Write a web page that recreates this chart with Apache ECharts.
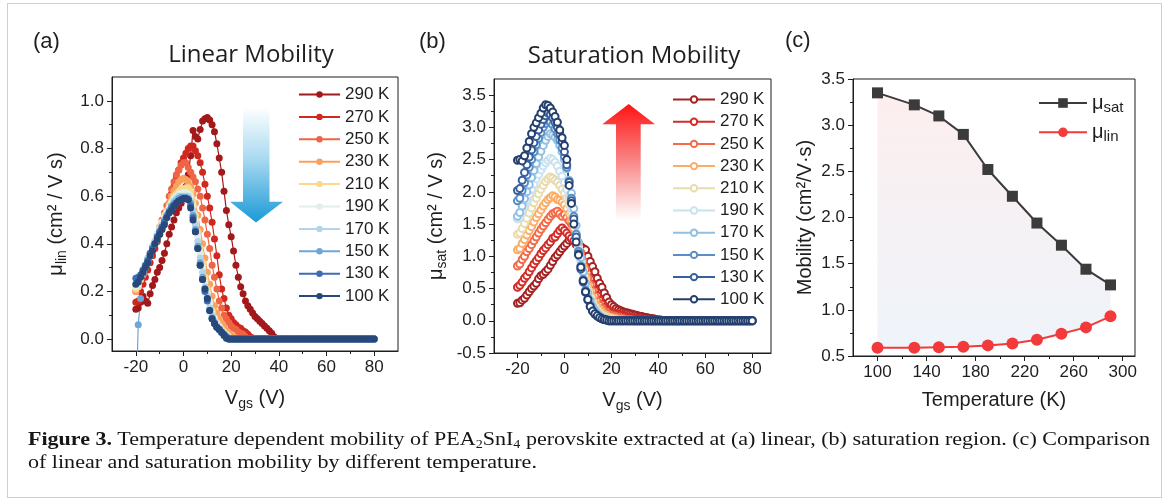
<!DOCTYPE html>
<html><head><meta charset="utf-8">
<script src="https://cdn.jsdelivr.net/npm/echarts@6/dist/echarts.min.js"></script>
<style>
html,body{margin:0;padding:0;background:#fff;}
#wrap{position:relative;width:1167px;height:502px;overflow:hidden;background:#fff;}
#chart{position:absolute;left:0;top:0;width:1167px;height:502px;}
#frame{position:absolute;left:7px;top:3px;width:1155px;height:495px;border:1px solid #cfcfcf;box-sizing:border-box;pointer-events:none;}
#cap{position:absolute;left:28px;top:427px;font-family:'Liberation Serif',serif;font-size:19.5px;line-height:23px;color:#151515;white-space:nowrap;transform-origin:0 0;}
#cap sub{font-size:12.5px;vertical-align:-3px;line-height:0;}
</style></head>
<body>
<div id="wrap">
<div id="chart"></div>
<div id="frame"></div>
<div id="cap"><span id="l1"><b>Figure 3.</b> Temperature dependent mobility of PEA<sub>2</sub>SnI<sub>4</sub> perovskite extracted at (a) linear, (b) saturation region. (c) Comparison</span><br><span id="l2">of linear and saturation mobility by different temperature.</span></div>
</div>
<script>
// ---------- DATA ----------
const vgs = [-20,-19,-18,-17,-16,-15,-14,-13,-12,-11,-10,-9,-8,-7,-6,-5,-4,-3,-2,-1,0,1,2,3,4,5,6,7,8,9,10,11,12,13,14,15,16,17,18,19,20,21,22,23,24,25,26,27,28,29,30,31,32,33,34,35,36,37,38,39,40,41,42,43,44,45,46,47,48,49,50,51,52,53,54,55,56,57,58,59,60,61,62,63,64,65,66,67,68,69,70,71,72,73,74,75,76,77,78,79,80];
const temps = ['290 K','270 K','250 K','230 K','210 K','190 K','170 K','150 K','130 K','100 K'];
const linColors = ['#a3191b','#d0281f','#ef6445','#f9a15e','#fcd88b','#e2efe8','#b2d5ea','#6ea6d6','#3b6db3','#29487a'];
const satColors = ['#a52224','#d22c27','#f26a47','#fbad68','#e9dcac','#c9e2f1','#92c0e2','#5a8ec8','#36619e','#243f6d'];

// panel (a): linear mobility vs Vgs
const lin290 = [0.125,0.13,0.155,0.18,0.16,0.15,0.19,0.225,0.25,0.28, 0.30,0.33,0.36,0.40,0.44,0.47,0.50,0.53,0.55,0.57, 0.60,0.64,0.69,0.77,0.875,0.85,0.84,0.88,0.915,0.925, 0.93,0.92,0.90,0.87,0.82,0.76,0.70,0.62,0.54,0.48, 0.43,0.37,0.31,0.26,0.22,0.19,0.16,0.14,0.125,0.11, 0.095,0.085,0.075,0.065,0.055,0.045,0.035,0.025,0.01,0, 0,0,0,0,0,0,0,0,0,0, 0,0,0,0,0,0,0,0,0,0, 0,0,0,0,0,0,0,0,0,0, 0,0,0,0,0,0,0,0,0,0, 0];
const lin270 = [0.155,0.16,0.20,0.23,0.26,0.29,0.32,0.35,0.38,0.41, 0.44,0.47,0.50,0.54,0.57,0.61,0.64,0.68,0.71,0.74, 0.76,0.78,0.80,0.81,0.81,0.79,0.77,0.74,0.70,0.65, 0.60,0.55,0.49,0.42,0.35,0.27,0.21,0.17,0.13,0.10, 0.085,0.07,0.06,0.05,0.045,0.035,0.03,0.02,0.01,0.005, 0,0,0,0,0,0,0,0,0,0, 0,0,0,0,0,0,0,0,0,0, 0,0,0,0,0,0,0,0,0,0, 0,0,0,0,0,0,0,0,0,0, 0,0,0,0,0,0,0,0,0,0, 0];
const lin250 = [0.20,0.22,0.25,0.28,0.30,0.33,0.35,0.38,0.41,0.44, 0.47,0.50,0.53,0.56,0.60,0.63,0.66,0.69,0.71,0.73, 0.74,0.74,0.72,0.70,0.68,0.66,0.63,0.60,0.55,0.50, 0.44,0.38,0.31,0.26,0.21,0.16,0.13,0.10,0.085,0.07, 0.055,0.045,0.04,0.03,0.025,0.02,0.01,0,0,0, 0,0,0,0,0,0,0,0,0,0, 0,0,0,0,0,0,0,0,0,0, 0,0,0,0,0,0,0,0,0,0, 0,0,0,0,0,0,0,0,0,0, 0,0,0,0,0,0,0,0,0,0, 0];
const lin230 = [0.20,0.22,0.25,0.27,0.30,0.32,0.35,0.38,0.40,0.43, 0.45,0.48,0.51,0.54,0.57,0.60,0.62,0.64,0.66,0.67, 0.675,0.67,0.66,0.64,0.61,0.57,0.52,0.46,0.40,0.34, 0.28,0.23,0.18,0.14,0.11,0.085,0.065,0.05,0.035,0.025, 0.015,0.01,0.005,0,0,0,0,0,0,0, 0,0,0,0,0,0,0,0,0,0, 0,0,0,0,0,0,0,0,0,0, 0,0,0,0,0,0,0,0,0,0, 0,0,0,0,0,0,0,0,0,0, 0,0,0,0,0,0,0,0,0,0, 0];
const lin210 = [0.21,0.22,0.25,0.28,0.31,0.33,0.36,0.39,0.41,0.44, 0.47,0.49,0.52,0.54,0.56,0.58,0.60,0.61,0.62,0.63, 0.63,0.635,0.635,0.62,0.58,0.52,0.45,0.38,0.32,0.26, 0.21,0.16,0.12,0.09,0.07,0.055,0.04,0.03,0.02,0.01, 0,0,0,0,0,0,0,0,0,0, 0,0,0,0,0,0,0,0,0,0, 0,0,0,0,0,0,0,0,0,0, 0,0,0,0,0,0,0,0,0,0, 0,0,0,0,0,0,0,0,0,0, 0,0,0,0,0,0,0,0,0,0, 0];
const lin190 = [0.22,0.23,0.26,0.28,0.31,0.34,0.36,0.39,0.41,0.44, 0.46,0.49,0.51,0.53,0.55,0.57,0.59,0.60,0.61,0.61, 0.615,0.615,0.61,0.60,0.56,0.50,0.43,0.36,0.30,0.24, 0.19,0.15,0.11,0.085,0.065,0.05,0.035,0.025,0.015,0.005, 0,0,0,0,0,0,0,0,0,0, 0,0,0,0,0,0,0,0,0,0, 0,0,0,0,0,0,0,0,0,0, 0,0,0,0,0,0,0,0,0,0, 0,0,0,0,0,0,0,0,0,0, 0,0,0,0,0,0,0,0,0,0, 0];
const lin170 = [0.23,0.24,0.26,0.29,0.31,0.34,0.36,0.39,0.41,0.43, 0.46,0.48,0.50,0.52,0.54,0.56,0.58,0.59,0.60,0.60, 0.60,0.60,0.60,0.58,0.54,0.48,0.41,0.34,0.28,0.22, 0.18,0.13,0.10,0.075,0.06,0.045,0.03,0.02,0.01,0.005, 0,0,0,0,0,0,0,0,0,0, 0,0,0,0,0,0,0,0,0,0, 0,0,0,0,0,0,0,0,0,0, 0,0,0,0,0,0,0,0,0,0, 0,0,0,0,0,0,0,0,0,0, 0,0,0,0,0,0,0,0,0,0, 0];
const lin150 = [-0.3,0.06,0.17,0.27,0.30,0.33,0.35,0.38,0.40,0.43, 0.45,0.47,0.50,0.52,0.54,0.56,0.57,0.58,0.59,0.595, 0.595,0.595,0.59,0.57,0.52,0.46,0.39,0.32,0.26,0.21, 0.17,0.12,0.09,0.07,0.05,0.04,0.03,0.02,0.01,0, 0,0,0,0,0,0,0,0,0,0, 0,0,0,0,0,0,0,0,0,0, 0,0,0,0,0,0,0,0,0,0, 0,0,0,0,0,0,0,0,0,0, 0,0,0,0,0,0,0,0,0,0, 0,0,0,0,0,0,0,0,0,0, 0];
const lin130 = [0.255,0.26,0.27,0.29,0.31,0.33,0.36,0.38,0.40,0.43, 0.45,0.47,0.49,0.51,0.53,0.55,0.56,0.57,0.58,0.585, 0.59,0.59,0.585,0.56,0.51,0.45,0.38,0.31,0.25,0.20, 0.16,0.12,0.085,0.065,0.05,0.04,0.03,0.02,0.01,0, 0,0,0,0,0,0,0,0,0,0, 0,0,0,0,0,0,0,0,0,0, 0,0,0,0,0,0,0,0,0,0, 0,0,0,0,0,0,0,0,0,0, 0,0,0,0,0,0,0,0,0,0, 0,0,0,0,0,0,0,0,0,0, 0];
const lin100 = [0.23,0.24,0.26,0.28,0.30,0.32,0.35,0.37,0.40,0.42, 0.44,0.46,0.48,0.51,0.53,0.54,0.56,0.57,0.58,0.585, 0.59,0.59,0.585,0.55,0.50,0.45,0.38,0.31,0.25,0.21, 0.17,0.12,0.085,0.065,0.05,0.04,0.028,0.015,0.003,0, 0,0,0,0,0,0,0,0,0,0, 0,0,0,0,0,0,0,0,0,0, 0,0,0,0,0,0,0,0,0,0, 0,0,0,0,0,0,0,0,0,0, 0,0,0,0,0,0,0,0,0,0, 0,0,0,0,0,0,0,0,0,0, 0];

// panel (b): saturation mobility vs Vgs
const sat290 = [0.27,0.28,0.32,0.35,0.40,0.45,0.50,0.54,0.58,0.65, 0.70,0.72,0.76,0.80,0.86,0.92,0.98,1.02,1.07,1.12, 1.16,1.20,1.25,1.27,1.24,1.20,1.18,1.15,1.12,1.10, 1.00,0.92,0.84,0.76,0.66,0.58,0.52,0.43,0.36,0.29, 0.25,0.22,0.19,0.17,0.155,0.14,0.13,0.12,0.11,0.10, 0.09,0.08,0.07,0.065,0.055,0.05,0.04,0.035,0.03,0.02, 0.015,0.01,0,0,0,0,0,0,0,0, 0,0,0,0,0,0,0,0,0,0, 0,0,0,0,0,0,0,0,0,0, 0,0,0,0,0,0,0,0,0,0, 0];
const sat270 = [0.52,0.55,0.60,0.66,0.70,0.76,0.82,0.88,0.93,0.98, 1.04,1.09,1.13,1.18,1.22,1.28,1.30,1.35,1.40,1.44, 1.40,1.36,1.32,1.28,1.24,1.18,1.10,1.02,0.93,0.84, 0.74,0.65,0.56,0.47,0.39,0.32,0.26,0.21,0.17,0.15, 0.13,0.12,0.11,0.10,0.09,0.08,0.07,0.06,0.055,0.05, 0.04,0.035,0.03,0.025,0.02,0.015,0.01,0.005,0,0, 0,0,0,0,0,0,0,0,0,0, 0,0,0,0,0,0,0,0,0,0, 0,0,0,0,0,0,0,0,0,0, 0,0,0,0,0,0,0,0,0,0, 0];
const sat250 = [0.85,0.88,0.95,1.00,1.07,1.12,1.18,1.24,1.30,1.36, 1.42,1.47,1.52,1.57,1.62,1.66,1.68,1.70,1.66,1.62, 1.65,1.60,1.55,1.50,1.42,1.33,1.20,1.06,0.92,0.80, 0.67,0.56,0.46,0.38,0.30,0.24,0.19,0.15,0.12,0.10, 0.08,0.07,0.06,0.05,0.04,0.03,0.025,0.02,0.015,0.01, 0.005,0,0,0,0,0,0,0,0,0, 0,0,0,0,0,0,0,0,0,0, 0,0,0,0,0,0,0,0,0,0, 0,0,0,0,0,0,0,0,0,0, 0,0,0,0,0,0,0,0,0,0, 0];
const sat230 = [1.10,1.12,1.20,1.26,1.33,1.40,1.46,1.53,1.60,1.66, 1.72,1.78,1.83,1.88,1.91,1.94,1.92,1.88,1.87,1.84, 1.80,1.74,1.66,1.56,1.44,1.30,1.14,0.98,0.83,0.69, 0.56,0.45,0.36,0.28,0.22,0.17,0.13,0.10,0.08,0.06, 0.05,0.04,0.03,0.02,0.015,0.01,0.005,0,0,0, 0,0,0,0,0,0,0,0,0,0, 0,0,0,0,0,0,0,0,0,0, 0,0,0,0,0,0,0,0,0,0, 0,0,0,0,0,0,0,0,0,0, 0,0,0,0,0,0,0,0,0,0, 0];
const sat210 = [1.34,1.36,1.43,1.51,1.59,1.67,1.75,1.83,1.90,1.97, 2.04,2.10,2.16,2.20,2.23,2.21,2.18,2.15,2.10,2.04, 1.98,1.90,1.80,1.66,1.50,1.32,1.13,0.95,0.78,0.62, 0.48,0.37,0.28,0.21,0.16,0.12,0.09,0.07,0.05,0.04, 0.03,0.02,0.01,0.005,0,0,0,0,0,0, 0,0,0,0,0,0,0,0,0,0, 0,0,0,0,0,0,0,0,0,0, 0,0,0,0,0,0,0,0,0,0, 0,0,0,0,0,0,0,0,0,0, 0,0,0,0,0,0,0,0,0,0, 0];
const sat190 = [1.58,1.60,1.69,1.78,1.87,1.96,2.04,2.12,2.20,2.27, 2.34,2.40,2.45,2.49,2.52,2.50,2.46,2.40,2.32,2.24, 2.15,2.04,1.90,1.74,1.56,1.36,1.14,0.93,0.74,0.57, 0.43,0.32,0.23,0.17,0.12,0.09,0.06,0.04,0.03,0.02, 0.01,0,0,0,0,0,0,0,0,0, 0,0,0,0,0,0,0,0,0,0, 0,0,0,0,0,0,0,0,0,0, 0,0,0,0,0,0,0,0,0,0, 0,0,0,0,0,0,0,0,0,0, 0,0,0,0,0,0,0,0,0,0, 0];
const sat170 = [1.62,1.68,1.78,1.89,2.00,2.11,2.22,2.33,2.44,2.54, 2.63,2.72,2.80,2.86,2.90,2.88,2.85,2.80,2.72,2.62, 2.50,2.36,2.18,1.98,1.74,1.48,1.22,0.98,0.76,0.58, 0.43,0.31,0.22,0.16,0.11,0.08,0.05,0.03,0.02,0.01, 0,0,0,0,0,0,0,0,0,0, 0,0,0,0,0,0,0,0,0,0, 0,0,0,0,0,0,0,0,0,0, 0,0,0,0,0,0,0,0,0,0, 0,0,0,0,0,0,0,0,0,0, 0,0,0,0,0,0,0,0,0,0, 0];
const sat150 = [1.86,1.90,2.02,2.14,2.26,2.38,2.50,2.62,2.73,2.83, 2.92,3.00,3.06,3.10,3.08,3.04,2.98,2.90,2.80,2.68, 2.55,2.38,2.16,1.90,1.62,1.34,1.08,0.85,0.64,0.47, 0.34,0.24,0.16,0.11,0.08,0.05,0.03,0.02,0.01,0, 0,0,0,0,0,0,0,0,0,0, 0,0,0,0,0,0,0,0,0,0, 0,0,0,0,0,0,0,0,0,0, 0,0,0,0,0,0,0,0,0,0, 0,0,0,0,0,0,0,0,0,0, 0,0,0,0,0,0,0,0,0,0, 0];
const sat130 = [2.02,2.05,2.18,2.30,2.42,2.54,2.65,2.76,2.86,2.96, 3.05,3.12,3.18,3.22,3.20,3.15,3.08,3.00,2.90,2.78, 2.62,2.42,2.15,1.86,1.58,1.30,1.04,0.80,0.60,0.44, 0.32,0.22,0.15,0.10,0.07,0.05,0.03,0.02,0.01,0, 0,0,0,0,0,0,0,0,0,0, 0,0,0,0,0,0,0,0,0,0, 0,0,0,0,0,0,0,0,0,0, 0,0,0,0,0,0,0,0,0,0, 0,0,0,0,0,0,0,0,0,0, 0,0,0,0,0,0,0,0,0,0, 0];
const sat100 = [2.49,2.50,2.48,2.56,2.68,2.78,2.90,3.00,3.07,3.15, 3.22,3.30,3.35,3.34,3.30,3.24,3.17,3.08,2.96,2.84, 2.72,2.50,2.10,1.82,1.50,1.22,1.02,0.83,0.62,0.45, 0.33,0.22,0.15,0.11,0.08,0.05,0.03,0.02,0.01,0, 0,0,0,0,0,0,0,0,0,0, 0,0,0,0,0,0,0,0,0,0, 0,0,0,0,0,0,0,0,0,0, 0,0,0,0,0,0,0,0,0,0, 0,0,0,0,0,0,0,0,0,0, 0,0,0,0,0,0,0,0,0,0, 0];

// panel (c): mobility vs temperature
const tempK = [100,130,150,170,190,210,230,250,270,290];
const muSat = [3.35,3.22,3.10,2.90,2.52,2.23,1.94,1.70,1.44,1.27];
const muLin = [0.59,0.59,0.595,0.60,0.615,0.635,0.675,0.74,0.81,0.93];

// tick labels
const xTicksAB = [-20,0,20,40,60,80];
const xMinorAB = [-10,10,30,50,70];
const yTicksA = [0,0.2,0.4,0.6,0.8,1.0];
const yMinorA = [0.1,0.3,0.5,0.7,0.9];
const yTicksB = [-0.5,0,0.5,1.0,1.5,2.0,2.5,3.0,3.5];
const yMinorB = [-0.25,0.25,0.75,1.25,1.75,2.25,2.75,3.25];
const xTicksC = [100,140,180,220,260,300];
const xMinorC = [120,160,200,240,280];
const yTicksC = [0.5,1.0,1.5,2.0,2.5,3.0,3.5];
const yMinorC = [0.75,1.25,1.75,2.25,2.75,3.25];

const linSets = [lin290,lin270,lin250,lin230,lin210,lin190,lin170,lin150,lin130,lin100];
const satSets = [sat290,sat270,sat250,sat230,sat210,sat190,sat170,sat150,sat130,sat100];

// ---------- CHART ----------
const FONT = 'Liberation Sans';
const INK = '#1e1e1e';
const chart = echarts.init(document.getElementById('chart'), null, {renderer:'canvas'});

function mainAxis(grid, min, max, ticks, opts) {
  return Object.assign({
    type:'value', gridIndex:grid, min:min, max:max,
    axisLine:{show:true, onZero:false, lineStyle:{color:INK, width:1}},
    axisTick:{show:true, customValues:ticks, length:5, lineStyle:{color:INK}},
    axisLabel:{show:true, customValues:ticks, fontSize:17, color:INK, fontFamily:FONT, margin:8},
    splitLine:{show:false},
    nameTextStyle:{fontSize:20, color:INK, fontFamily:FONT},
    nameLocation:'middle'
  }, opts || {});
}
function minorAxis(grid, min, max, ticks, pos) {
  return {
    type:'value', gridIndex:grid, min:min, max:max, position:pos, offset:0,
    axisLine:{show:false, onZero:false},
    axisTick:{show:true, customValues:ticks, length:3, lineStyle:{color:INK}},
    axisLabel:{show:false}, splitLine:{show:false}
  };
}
const richName = {
  t:{fontSize:20, lineHeight:26, fontFamily:FONT, color:INK},
  s:{fontSize:14, lineHeight:14, fontFamily:FONT, color:INK, verticalAlign:'bottom'}
};
const fmt1 = v => v.toFixed(1);

const series = [];
// shaded band between the two curves of panel (c)
series.push({
  type:'custom', name:'cBand', xAxisIndex:4, yAxisIndex:4, silent:true, z:1,
  data:[[tempK[0], muLin[0]]],
  renderItem: (params, api) => {
    const top = tempK.map((t, j) => api.coord([t, muSat[j]]));
    const bottom = tempK.map((t, j) => api.coord([t, muLin[j]])).reverse();
    return {type:'polygon', shape:{points: top.concat(bottom)},
      style:{fill:new echarts.graphic.LinearGradient(0,0,0,1,[{offset:0,color:'#fdeeee'},{offset:1,color:'#eef4fa'}])}};
  }
});
linSets.forEach((arr, i) => {
  series.push({
    type:'line', name:'a' + temps[i], xAxisIndex:0, yAxisIndex:0,
    data: vgs.map((x, j) => [x, arr[j]]),
    symbol:'circle', symbolSize:7, showSymbol:true, clip:true,
    lineStyle:{width:1.2, color:linColors[i]}, itemStyle:{color:linColors[i]},
    emphasis:{disabled:true}, silent:true, z:2
  });
});
satSets.forEach((arr, i) => {
  series.push({
    type:'line', name:'b' + temps[i], xAxisIndex:2, yAxisIndex:2,
    data: vgs.map((x, j) => [x, arr[j]]),
    symbol:'emptyCircle', symbolSize:7, showSymbol:true, clip:true,
    lineStyle:{width:1.2, color:satColors[i]}, itemStyle:{color:satColors[i], borderColor:satColors[i], borderWidth:1.8},
    emphasis:{disabled:true}, silent:true, z:2
  });
});
series.push({
  type:'line', name:'cSat', xAxisIndex:4, yAxisIndex:4,
  data: tempK.map((t, j) => [t, muSat[j]]), symbol:'rect', symbolSize:11,
  lineStyle:{width:2, color:'#3b3b3b'}, itemStyle:{color:'#3b3b3b'}, silent:true, z:3
});
series.push({
  type:'line', name:'cLin', xAxisIndex:4, yAxisIndex:4,
  data: tempK.map((t, j) => [t, muLin[j]]), symbol:'circle', symbolSize:12,
  lineStyle:{width:2, color:'#f23a3a'}, itemStyle:{color:'#f23a3a'}, silent:true, z:3
});

const legendText = {fontSize:17, fontFamily:FONT, color:INK, lineHeight:16};

const option = {
  animation:false,
  backgroundColor:'transparent',
  textStyle:{fontFamily:FONT},
  grid:[
    {left:112, top:77, width:286, height:274, show:true, borderColor:INK, borderWidth:1, backgroundColor:'transparent'},
    {left:494, top:79, width:277, height:274, show:true, borderColor:INK, borderWidth:1, backgroundColor:'transparent'},
    {left:853, top:79, width:282, height:277, show:true, borderColor:INK, borderWidth:1, backgroundColor:'transparent'}
  ],
  xAxis:[
    mainAxis(0, -30, 90, xTicksAB, {position:'bottom', name:'{t|V}{s|gs}{t| (V)}', nameGap:34, nameTextStyle:{rich:richName}}),
    minorAxis(0, -30, 90, xMinorAB, 'bottom'),
    mainAxis(1, -30, 88, xTicksAB, {position:'bottom', name:'{t|V}{s|gs}{t| (V)}', nameGap:34, nameTextStyle:{rich:richName}}),
    minorAxis(1, -30, 88, xMinorAB, 'bottom'),
    mainAxis(2, 80, 310, xTicksC, {position:'bottom', name:'Temperature (K)', nameGap:34}),
    minorAxis(2, 80, 310, xMinorC, 'bottom')
  ],
  yAxis:[
    mainAxis(0, -0.05, 1.1, yTicksA, {position:'left', name:'{t|μ}{s|lin}{t| (cm² / V s)}', nameGap:43, nameTextStyle:{rich:richName}, axisLabel:{customValues:yTicksA, fontSize:17, color:INK, fontFamily:FONT, margin:8, formatter:fmt1}}),
    minorAxis(0, -0.05, 1.1, yMinorA, 'left'),
    mainAxis(1, -0.5, 3.75, yTicksB, {position:'left', name:'{t|μ}{s|sat}{t| (cm² / V s)}', nameGap:45, nameTextStyle:{rich:richName}, axisLabel:{customValues:yTicksB, fontSize:17, color:INK, fontFamily:FONT, margin:8, formatter:fmt1}}),
    minorAxis(1, -0.5, 3.75, yMinorB, 'left'),
    mainAxis(2, 0.5, 3.5, yTicksC, {position:'left', name:'Mobility (cm²/V·s)', nameGap:38, axisLabel:{customValues:yTicksC, fontSize:17, color:INK, fontFamily:FONT, margin:8, formatter:fmt1}}),
    minorAxis(2, 0.5, 3.5, yMinorC, 'left')
  ],
  legend:[
    {orient:'vertical', left:298, top:86, padding:0, itemWidth:41, itemHeight:8, itemGap:5.4, selectedMode:false,
     data: temps.map(t => 'a' + t), formatter: n => n.slice(1), textStyle:legendText},
    {orient:'vertical', left:672, top:91, padding:0, itemWidth:42, itemHeight:8, itemGap:5.2, selectedMode:false,
     data: temps.map(t => 'b' + t), formatter: n => n.slice(1), textStyle:legendText},
    {orient:'vertical', left:1038, top:93, padding:0, itemWidth:48, itemHeight:12, itemGap:7.3, selectedMode:false,
     data:['cSat','cLin'], formatter: n => n === 'cSat' ? '{t|μ}{s|sat}' : '{t|μ}{s|lin}',
     textStyle:{fontSize:20, fontFamily:FONT, color:INK, rich:{t:{fontSize:20, lineHeight:24, fontFamily:FONT, color:INK}, s:{fontSize:15, lineHeight:15, fontFamily:FONT, color:INK, verticalAlign:'bottom'}}}}
  ],
  graphic:[
    {type:'text', left:33, top:31, style:{text:'(a)', font:'22px "Liberation Sans"', fill:INK}},
    {type:'text', left:419, top:31, style:{text:'(b)', font:'22px "Liberation Sans"', fill:INK}},
    {type:'text', left:785, top:30, style:{text:'(c)', font:'22px "Liberation Sans"', fill:INK}},
    {type:'text', x:251, y:55, style:{text:'Linear Mobility', font:'24px "Open Sans"', fill:INK, textAlign:'center', textVerticalAlign:'middle'}},
    {type:'text', x:634, y:56, style:{text:'Saturation Mobility', font:'24px "Open Sans"', fill:INK, textAlign:'center', textVerticalAlign:'middle'}},
    {type:'polygon', shape:{points:[[243,107],[269.5,107],[269.5,201.7],[283,201.7],[256,222.5],[230,201.7],[243,201.7]]},
     style:{fill:new echarts.graphic.LinearGradient(0,0,0,1,[{offset:0,color:'#ffffff'},{offset:0.45,color:'#a9d9f0'},{offset:1,color:'#1a9ad6'}])}, z:5},
    {type:'polygon', shape:{points:[[628.7,104],[655,124.3],[640.7,124.3],[640.7,220],[616,220],[616,124.3],[602.3,124.3]]},
     style:{fill:new echarts.graphic.LinearGradient(0,0,0,1,[{offset:0,color:'#ff1414'},{offset:0.5,color:'#f98888'},{offset:1,color:'#ffffff'}])}, z:5}
  ],
  series:series
};
chart.setOption(option);

// fit caption width to the reference line length
(function(){
  const cap = document.getElementById('cap');
  const w = document.getElementById('l1').getBoundingClientRect().width;
  if (w > 0) cap.style.transform = 'scaleX(' + (1122 / w) + ')';
})();
</script>
</body></html>
